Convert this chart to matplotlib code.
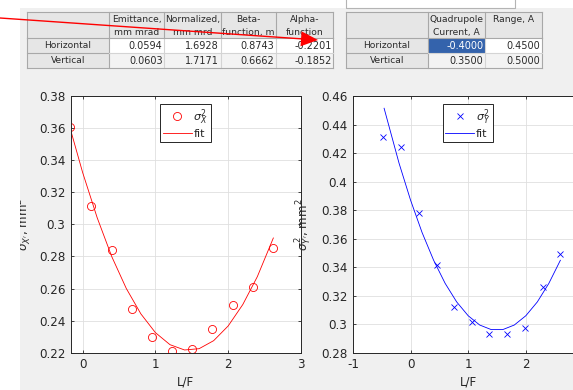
import math
import matplotlib
matplotlib.use("Agg")
import matplotlib.pyplot as plt
from matplotlib.patches import Rectangle, Polygon

# ---------------- data ----------------
lf_x = [-0.174, 0.115, 0.399, 0.673, 0.948, 1.232, 1.507, 1.782, 2.061, 2.336, 2.611]
sigma2_x = [0.3609, 0.3114, 0.2840, 0.2472, 0.2300, 0.2210, 0.2225, 0.2348, 0.2497, 0.2607, 0.2855]
fit_x_lf = [-0.16, 0.0, 0.2, 0.4, 0.6, 0.8, 1.0, 1.2, 1.4, 1.6, 1.8, 2.0, 2.2, 2.4, 2.62]
fit_x_val = [0.3580, 0.3323, 0.3041, 0.2799, 0.2600, 0.2442, 0.2325, 0.2250, 0.2217,
             0.2225, 0.2275, 0.2367, 0.2500, 0.2674, 0.2915]

lf_y = [-0.473, -0.167, 0.138, 0.450, 0.756, 1.067, 1.362, 1.673, 1.979, 2.291, 2.597]
sigma2_y = [0.4315, 0.4242, 0.3777, 0.3415, 0.3123, 0.3013, 0.2929, 0.2931, 0.2975, 0.3263, 0.3492]
fit_y_lf = [-0.46, -0.2, 0.0, 0.2, 0.4, 0.6, 0.8, 1.0, 1.2, 1.4, 1.6, 1.8, 2.0, 2.2, 2.4, 2.6]
fit_y_val = [0.4514, 0.4128, 0.3869, 0.3642, 0.3448, 0.3286, 0.3156, 0.3059, 0.2994,
             0.2962, 0.2962, 0.2994, 0.3059, 0.3156, 0.3286, 0.3448]

xticks1 = [0, 1, 2, 3]
xticklabels1 = ["0", "1", "2", "3"]
yticks1 = [0.22, 0.24, 0.26, 0.28, 0.30, 0.32, 0.34, 0.36, 0.38]
yticklabels1 = ["0.22", "0.24", "0.26", "0.28", "0.3", "0.32", "0.34", "0.36", "0.38"]
xticks2 = [-1, 0, 1, 2]
xticklabels2 = ["-1", "0", "1", "2"]
yticks2 = [0.28, 0.30, 0.32, 0.34, 0.36, 0.38, 0.40, 0.42, 0.44, 0.46]
yticklabels2 = ["0.28", "0.3", "0.32", "0.34", "0.36", "0.38", "0.4", "0.42", "0.44", "0.46"]

table1_cols = [["Emittance,", "mm mrad"], ["Normalized,", "mm mrd"],
               ["Beta-", "function, m"], ["Alpha-", "function"]]
table_rows = ["Horizontal", "Vertical"]
table1_vals = [[0.0594, 1.6928, 0.8743, -0.2201],
               [0.0603, 1.7171, 0.6662, -0.1852]]
table2_cols = [["Quadrupole", "Current, A"], ["Range, A"]]
table2_vals = [[-0.4000, 0.4500],
               [0.3500, 0.5000]]

# ---------------- figure ----------------
W, H = 573, 390
fig = plt.figure(figsize=(W / 100, H / 100), dpi=100)
fig.patch.set_facecolor("#f0f0f0")

def fx(px):
    return px / W

def fy(py):
    return 1 - py / H

# background GUI layer
bg = fig.add_axes([0, 0, 1, 1], zorder=-5)
bg.set_xlim(0, W)
bg.set_ylim(H, 0)
bg.axis("off")
bg.add_patch(Rectangle((0, 0), W, 8, facecolor="white", edgecolor="none"))
bg.plot([346, 346, 515, 515], [0, 8, 8, 0], color="#b4b4b4", lw=0.8)

HDR_BG = "#e6e6e6"
GRID_C = "#a8a8a8"
LIGHT_C = "#d4d4d4"
TXT_C = "#2a2a2a"

def draw_table(col_edges, y_edges, headers, rows, vals, highlight=None):
    x0, x1 = col_edges[0], col_edges[-1]
    y0, y1 = y_edges[0], y_edges[-1]
    bg.add_patch(Rectangle((x0, y0), x1 - x0, y_edges[1] - y0, facecolor=HDR_BG, edgecolor="none"))
    bg.add_patch(Rectangle((x0, y_edges[1]), col_edges[1] - x0, y1 - y_edges[1],
                           facecolor=HDR_BG, edgecolor="none"))
    for r in range(len(rows)):
        fc = "white" if r == 0 else "#f3f3f3"
        bg.add_patch(Rectangle((col_edges[1], y_edges[r + 1]), x1 - col_edges[1],
                               y_edges[r + 2] - y_edges[r + 1], facecolor=fc, edgecolor="none"))
    if highlight is not None:
        r, c = highlight
        bg.add_patch(Rectangle((col_edges[c + 1], y_edges[r + 1]), col_edges[c + 2] - col_edges[c + 1],
                               y_edges[r + 2] - y_edges[r + 1], facecolor="#3463ac", edgecolor="none"))
    for i, xe in enumerate(col_edges):
        bg.plot([xe, xe], [y0, y_edges[1]], color=GRID_C, lw=0.8)
        bg.plot([xe, xe], [y_edges[1], y1],
                color=GRID_C if i <= 1 or i == len(col_edges) - 1 else LIGHT_C, lw=0.8)
    bg.plot([x0, x1], [y0, y0], color=GRID_C, lw=0.8)
    bg.plot([x0, x1], [y_edges[1], y_edges[1]], color=GRID_C, lw=0.8)
    bg.plot([x0, col_edges[1]], [y_edges[2], y_edges[2]], color=GRID_C, lw=0.8)
    bg.plot([col_edges[1], x1], [y_edges[2], y_edges[2]], color=LIGHT_C, lw=0.8)
    bg.plot([x0, x1], [y1, y1], color=GRID_C, lw=0.8)
    for c, lines in enumerate(headers):
        cx = (col_edges[c + 1] + col_edges[c + 2]) / 2
        for k, line in enumerate(lines):
            bg.text(cx, 19.5 + 12.8 * k, line, ha="center", va="center",
                    fontsize=6.6, color=TXT_C)
    for r, name in enumerate(rows):
        cy = (y_edges[r + 1] + y_edges[r + 2]) / 2
        bg.text((x0 + col_edges[1]) / 2, cy, name, ha="center", va="center",
                fontsize=6.6, color=TXT_C)
        for c, v in enumerate(vals[r]):
            col = "white" if highlight == (r, c) else TXT_C
            bg.text(col_edges[c + 2] - 1.8, cy + 0.3, f"{v:.4f}", ha="right", va="center",
                    fontsize=7.0, color=col)

yed = [12.3, 38.3, 53.3, 68.3]
draw_table([26.7, 109, 164.3, 220.7, 276.3, 333.3], yed, table1_cols, table_rows, table1_vals)
draw_table([346, 427.7, 485, 542.3], yed, table2_cols, table_rows, table2_vals, highlight=(0, 0))

# ---------------- plot axes ----------------
AX_C = "#262626"
GRID = "#dfdfdf"
FS = 8.6

def style_axes(ax):
    ax.set_facecolor("white")
    for s in ax.spines.values():
        s.set_color(AX_C)
        s.set_linewidth(0.7)
    ax.tick_params(direction="in", top=True, right=True, length=2.5, width=0.6,
                   colors=AX_C, labelsize=FS, pad=4)
    ax.grid(True, color=GRID, lw=0.6)
    ax.set_axisbelow(True)

top_px, bot_px = 96, 352.7
ax1 = fig.add_axes([fx(71), fy(bot_px), fx(301) - fx(71), (bot_px - top_px) / H], zorder=1)
ax2 = fig.add_axes([fx(353), fy(bot_px), fx(583.4) - fx(353), (bot_px - top_px) / H], zorder=2)

RED = "#ff0000"
BLUE = "#0000ff"
ax1.plot(lf_x, sigma2_x, "o", mfc="none", mec=RED, ms=5.8, mew=0.6, label=r"$\sigma^2_X$")
ax1.plot(fit_x_lf, fit_x_val, "-", color=RED, lw=0.6, label="fit")
ax1.set_xlim(-0.16, 3)
ax1.set_ylim(0.22, 0.38)
ax1.set_xticks(xticks1)
ax1.set_xticklabels(xticklabels1)
ax1.set_yticks(yticks1)
ax1.set_yticklabels(yticklabels1)
style_axes(ax1)
ax1.set_xlabel("L/F", fontsize=FS, color=AX_C, labelpad=3)
ax1.set_ylabel(r"$\sigma^2_{X'}$, mm$^2$", fontsize=FS, color=AX_C)
ax1.yaxis.set_label_coords(-0.161, 0.5)

ax2.plot(lf_y, sigma2_y, "x", color=BLUE, ms=4.5, mew=0.6, label=r"$\sigma^2_Y$")
ax2.plot(fit_y_lf, fit_y_val, "-", color=BLUE, lw=0.6, label="fit")
ax2.set_xlim(-1, 3)
ax2.set_ylim(0.28, 0.46)
ax2.set_xticks(xticks2)
ax2.set_xticklabels(xticklabels2)
ax2.set_yticks(yticks2)
ax2.set_yticklabels(yticklabels2)
style_axes(ax2)
ax2.spines["right"].set_visible(False)
ax2.set_xlabel("L/F", fontsize=FS, color=AX_C, labelpad=3)
ax2.set_ylabel(r"$\sigma^2_{Y'}$, mm$^2$", fontsize=FS, color=AX_C)
ax2.yaxis.set_label_coords(-0.169, 0.5)

def add_legend(ax, left_px, ax_left, ax_w):
    leg = ax.legend(loc="upper left",
                    bbox_to_anchor=((left_px - ax_left) / ax_w, (bot_px - 104.3) / (bot_px - top_px)),
                    frameon=True, fancybox=False, framealpha=1, edgecolor=AX_C,
                    fontsize=8, handlelength=2.6, handletextpad=0.15, borderpad=0.25,
                    labelspacing=0.2, borderaxespad=0, numpoints=1)
    leg.get_frame().set_linewidth(0.7)
    for t in leg.get_texts():
        t.set_color(AX_C)
    return leg

add_legend(ax1, 160, 71, 230)
add_legend(ax2, 442.7, 353, 230.4)

# ---------------- top GUI layer ----------------
top = fig.add_axes([0, 0, 1, 1], zorder=10)
top.set_xlim(0, W)
top.set_ylim(H, 0)
top.axis("off")
top.patch.set_visible(False)
top.add_patch(Rectangle((0, 0), 20, H, facecolor="white", edgecolor="none"))
tip = (318.0, 40.0)
start = (0.0, 18.0)
top.plot([start[0], tip[0] - 10], [start[1], start[1] + (tip[1] - start[1]) * (tip[0] - 10) / tip[0]],
         color="red", lw=1.0)
dx, dy = tip[0] - start[0], tip[1] - start[1]
L = math.hypot(dx, dy)
ux, uy = dx / L, dy / L
hl, hw = 17, 7.5
bx, by = tip[0] - ux * hl, tip[1] - uy * hl
top.add_patch(Polygon([tip, (bx - uy * hw, by + ux * hw), (bx + uy * hw, by - ux * hw)],
                      closed=True, facecolor="red", edgecolor="none"))

fig.savefig("out.png", dpi=100, facecolor=fig.get_facecolor())
